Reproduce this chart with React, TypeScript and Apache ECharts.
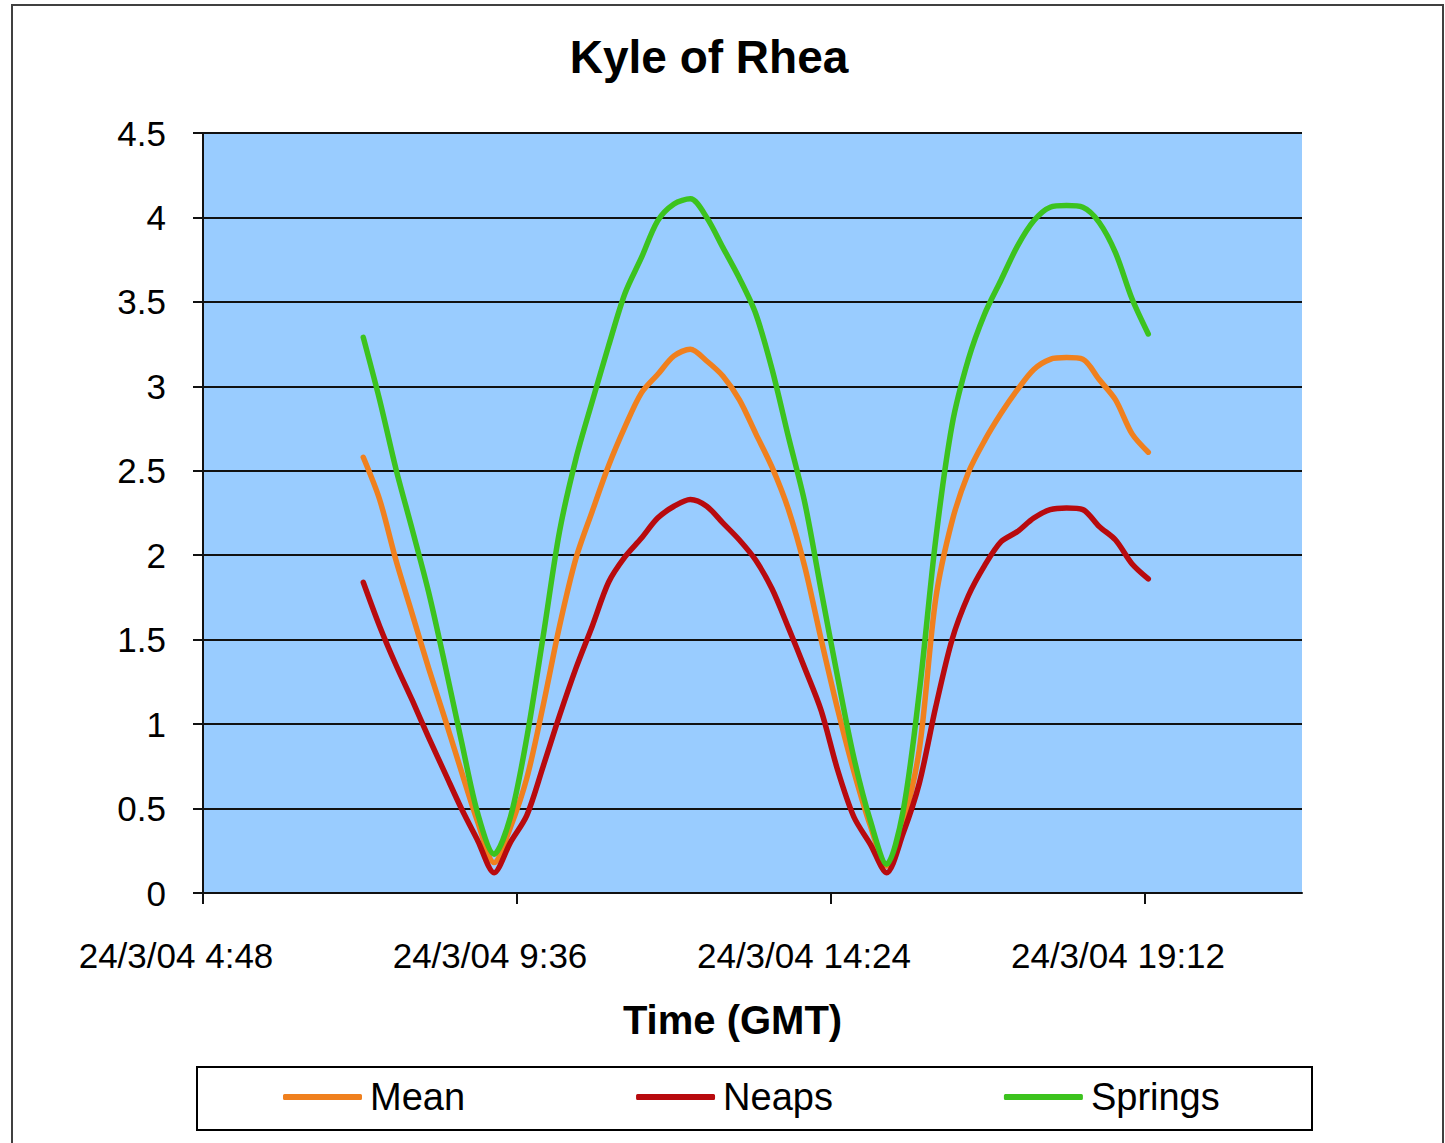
import React, { useEffect, useRef } from "react";
import * as echarts from "echarts";

// Time of each reading, in minutes after midnight on 24/3/04
const times = [435,450,465,480,495,510,525,540,555,570,585,600,615,630,645,660,675,690,705,720,735,750,765,780,795,810,825,840,855,870,885,900,915,930,945,960,975,990,1005,1020,1035,1050,1065,1080,1095,1110,1125,1140,1155];

const meanValues = [2.58,2.33,1.97,1.65,1.33,1.03,0.72,0.42,0.18,0.39,0.68,1.11,1.58,1.98,2.26,2.53,2.76,2.96,3.07,3.18,3.22,3.15,3.06,2.92,2.72,2.52,2.27,1.93,1.50,1.09,0.72,0.40,0.16,0.41,0.85,1.74,2.20,2.49,2.68,2.84,2.98,3.10,3.16,3.17,3.16,3.04,2.92,2.72,2.61];

const neapsValues = [1.84,1.58,1.35,1.14,0.92,0.71,0.50,0.31,0.12,0.30,0.46,0.75,1.05,1.33,1.58,1.84,1.99,2.10,2.22,2.29,2.33,2.29,2.19,2.09,1.97,1.80,1.57,1.33,1.08,0.73,0.45,0.29,0.12,0.35,0.65,1.10,1.50,1.76,1.94,2.08,2.14,2.22,2.27,2.28,2.27,2.17,2.09,1.95,1.86];

const springsValues = [3.29,2.92,2.51,2.15,1.78,1.35,0.90,0.47,0.23,0.45,0.92,1.52,2.14,2.57,2.91,3.24,3.55,3.76,3.98,4.08,4.11,4.00,3.82,3.64,3.43,3.10,2.70,2.31,1.79,1.28,0.80,0.43,0.17,0.48,1.19,2.09,2.77,3.16,3.43,3.63,3.83,3.98,4.06,4.07,4.06,3.97,3.79,3.52,3.31];

const seriesNames = ["Mean", "Neaps", "Springs"];
const xTickMinutes = [288, 576, 864, 1152];
const xMin = 288;
const xMax = 1296;
const xStep = 288;
const yMax = 4.5;
const yStep = 0.5;

const FONT = "'Liberation Sans', Arial, Helvetica, sans-serif";

function fmtTime(v: number): string {
  const total = Math.round(v);
  const h = Math.floor(total / 60);
  const m = total % 60;
  return `24/3/04 ${h}:${String(m).padStart(2, "0")}`;
}

export default function App() {
  const ref = useRef<HTMLDivElement>(null);

  useEffect(() => {
    if (!ref.current) return;
    const chart = echarts.init(ref.current, null, { renderer: "svg" });
    const zip = (vals: number[]) => times.map((t, i) => [t, vals[i]]);
    const colors = ["#F0801E", "#B80A0E", "#3CC31E"];
    const valueSets = [meanValues, neapsValues, springsValues];

    chart.setOption({
      animation: false,
      backgroundColor: "#ffffff",
      title: {
        text: "Kyle of Rhea",
        left: 709,
        top: 34,
        textAlign: "center",
        padding: 0,
        textStyle: {
          fontFamily: FONT,
          fontSize: 46,
          fontWeight: "bold",
          color: "#000",
        },
      },
      graphic: [
        {
          type: "rect",
          shape: { x: 12, y: 5, width: 1431, height: 1200 },
          style: { fill: "none", stroke: "#404040", lineWidth: 2 },
          silent: true,
        },
        {
          type: "rect",
          shape: { x: 197, y: 1067, width: 1115, height: 63 },
          style: { fill: "#ffffff", stroke: "#000", lineWidth: 2 },
          silent: true,
        },
      ],
      legend: {
        data: seriesNames,
        left: 283,
        top: 1078,
        padding: 0,
        itemGap: 171,
        itemWidth: 79,
        itemHeight: 6,
        icon: "roundRect",
        textStyle: {
          fontFamily: FONT,
          fontSize: 38,
          color: "#000",
          padding: [0, 0, 0, 3],
        },
      },
      grid: {
        left: 203,
        top: 133,
        width: 1099,
        height: 760,
        show: true,
        backgroundColor: "#99CCFF",
        borderWidth: 0,
        containLabel: false,
      },
      xAxis: {
        type: "value",
        min: xMin,
        max: xMax,
        interval: xStep,
        name: "Time (GMT)",
        nameLocation: "middle",
        nameGap: 107,
        nameTextStyle: {
          fontFamily: FONT,
          fontSize: 40,
          fontWeight: "bold",
          color: "#000",
          padding: [0, 40, 0, 0],
        },
        axisLine: { show: true, onZero: true, lineStyle: { color: "#111", width: 2 } },
        axisTick: {
          show: true,
          length: 11,
          inside: false,
          customValues: xTickMinutes,
          lineStyle: { color: "#111", width: 2 },
        },
        axisLabel: {
          customValues: xTickMinutes,
          formatter: (v: number) => fmtTime(v),
          fontFamily: FONT,
          fontSize: 35,
          color: "#000",
          margin: 45,
          padding: [0, 54, 0, 0],
        },
        splitLine: { show: false },
      },
      yAxis: {
        type: "value",
        min: 0,
        max: yMax,
        interval: yStep,
        axisLine: { show: true, lineStyle: { color: "#111", width: 2 } },
        axisTick: { show: true, length: 10, inside: false, lineStyle: { color: "#111", width: 2 } },
        axisLabel: {
          fontFamily: FONT,
          fontSize: 35,
          color: "#000",
          margin: 37,
        },
        splitLine: { show: true, lineStyle: { color: "#111", width: 2 } },
      },
      series: seriesNames.map((name, i) => ({
        name,
        type: "line",
        data: zip(valueSets[i]),
        showSymbol: false,
        symbol: "none",
        smooth: 0.3,
        color: colors[i],
        lineStyle: { color: colors[i], width: 5.5, cap: "round", join: "round" },
        itemStyle: { color: colors[i] },
        z: 2 + i,
      })),
    });

    return () => {
      chart.dispose();
    };
  }, []);

  return (
    <div
      ref={ref}
      style={{ position: "absolute", left: 0, top: 0, width: 1445, height: 1143 }}
    />
  );
}
